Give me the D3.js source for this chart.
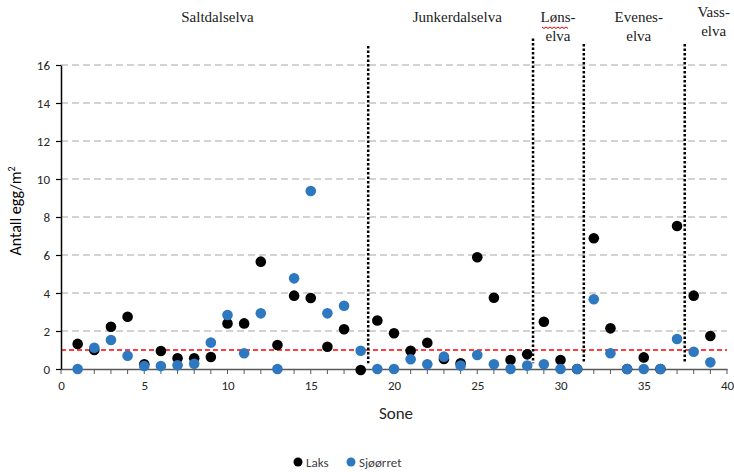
<!DOCTYPE html>
<html>
<head>
<meta charset="utf-8">
<script src="https://cdn.jsdelivr.net/npm/d3@7"></script>
<style>
  body { margin: 0; background: #fff; }
  .tick text { font-family: Carlito, Lato, "Liberation Sans", sans-serif; }
  .elv { font-family: "Liberation Serif", "Times New Roman", "DejaVu Serif", serif; }
</style>
</head>
<body>
<div id="chart"></div>
<script>
// sone 1..39
const soner = d3.range(1, 40);
const laks = [1.32, 1.0, 2.22, 2.75, 0.25, 0.95, 0.56, 0.56, 0.63, 2.4,
              2.4, 5.65, 1.26, 3.86, 3.74, 1.17, 2.09, -0.05, 2.55, 1.88,
              0.96, 1.38, 0.53, 0.3, 5.88, 3.75, 0.47, 0.77, 2.49, 0.47,
              0, 6.88, 2.14, 0, 0.61, 0, 7.53, 3.86, 1.74];
const sjoorret = [0, 1.12, 1.53, 0.7, 0.16, 0.16, 0.2, 0.28, 1.39, 2.84,
                  0.83, 2.93, 0, 4.77, 9.37, 2.93, 3.33, 0.96, 0, 0,
                  0.51, 0.25, 0.65, 0.18, 0.74, 0.25, 0, 0.18, 0.25, 0,
                  0, 3.67, 0.83, 0, 0, 0, 1.58, 0.91, 0.35];
const grenser = [18.45, 28.35, 31.4, 37.46];
const grenseTopp = [17.0, 17.4, 17.1, 17.1];
const elver = [
    {navn: ["Saltdalselva"], x: 9.4},
    {navn: ["Junkerdalselva"], x: 23.8},
    {navn: ["Løns-", "elva"], x: 29.85},
    {navn: ["Evenes-", "elva"], x: 34.7},
    {navn: ["Vass-", "elva"], x: 39.2}
];
const xTicks = [0, 5, 10, 15, 20, 25, 30, 35, 40];
const yTicks = [0, 2, 4, 6, 8, 10, 12, 14, 16];
const grenseverdi = 1;

const width = 734, height = 472;
const margin = {top: 65, right: 7, bottom: 103, left: 61};
const w = width - margin.left - margin.right;
const h = height - margin.top - margin.bottom;

const svg = d3.select("#chart").append("svg")
    .attr("width", width)
    .attr("height", height);

const g = svg.append("g")
    .attr("transform", "translate(" + margin.left + "," + margin.top + ")");

const x = d3.scaleLinear().domain([0, 40]).range([0, w]);
const y = d3.scaleLinear().domain([0, 16]).range([h, 0]);

const sans = "Carlito, Lato, 'Liberation Sans', sans-serif";

// gridlines
g.append("g")
    .selectAll("line")
    .data(yTicks.filter(d => d > 0))
    .join("line")
    .attr("x1", 0).attr("x2", w)
    .attr("y1", d => y(d)).attr("y2", d => y(d))
    .attr("stroke", "#a6a6a6")
    .attr("stroke-width", 1)
    .attr("stroke-dasharray", "7,4");

// red reference line
g.append("line")
    .attr("x1", 0).attr("x2", w)
    .attr("y1", y(grenseverdi)).attr("y2", y(grenseverdi))
    .attr("stroke", "#ff0000")
    .attr("stroke-width", 1.3)
    .attr("stroke-dasharray", "5,3");

// river borders
g.append("g")
    .selectAll("line")
    .data(grenser)
    .join("line")
    .attr("x1", d => x(d)).attr("x2", d => x(d))
    .attr("y1", (d, i) => y(grenseTopp[i]))
    .attr("y2", y(0.3))
    .attr("stroke", "#000")
    .attr("stroke-width", 2.5)
    .attr("stroke-dasharray", "2.5,2");

// x axis
const xAxis = g.append("g")
    .attr("transform", "translate(0," + h + ")")
    .call(d3.axisBottom(x).tickValues(xTicks).tickSize(0).tickPadding(12));
xAxis.select(".domain").attr("stroke", "#595959").attr("stroke-width", 1.5);
xAxis.selectAll(".tick text").attr("font-size", 13).attr("fill", "#262626");
xAxis.append("g")
    .selectAll("line")
    .data(d3.range(0, 41))
    .join("line")
    .attr("x1", d => x(d)).attr("x2", d => x(d))
    .attr("y1", 0).attr("y2", 5)
    .attr("stroke", "#595959")
    .attr("stroke-width", 1);

// y axis
const yAxis = g.append("g")
    .call(d3.axisLeft(y).tickValues(yTicks).tickSize(5).tickSizeOuter(0).tickPadding(6));
yAxis.select(".domain").attr("stroke", "#000").attr("stroke-width", 1.5);
yAxis.selectAll(".tick line").attr("stroke", "#000").attr("stroke-width", 1.2);
yAxis.selectAll(".tick text").attr("font-size", 13).attr("fill", "#262626");

// points
const punkter = g.append("g");
punkter.selectAll(".laks")
    .data(soner)
    .join("circle")
    .attr("class", "laks")
    .attr("cx", d => x(d))
    .attr("cy", (d, i) => y(laks[i]))
    .attr("r", 5.3)
    .attr("fill", "#000");
punkter.selectAll(".sjo")
    .data(soner)
    .join("circle")
    .attr("class", "sjo")
    .attr("cx", d => x(d))
    .attr("cy", (d, i) => y(sjoorret[i]))
    .attr("r", 5.3)
    .attr("fill", "#2e78c0");

// river names
elver.forEach(e => {
    const t = svg.append("text")
        .attr("class", "elv")
        .attr("x", margin.left + x(e.x))
        .attr("y", e.navn[0] === "Vass-" ? 17 : 22)
        .attr("text-anchor", "middle")
        .attr("font-size", 15)
        .attr("fill", "#222");
    e.navn.forEach((n, i) => {
        t.append("tspan")
            .attr("x", margin.left + x(e.x))
            .attr("dy", i === 0 ? 0 : 19)
            .text(n);
    });
});

// spell-check squiggle under "Løns"
const sq = d3.range(0, 27, 2).map((d, i) => [margin.left + x(29.85) - 16 + d, 27 + (i % 2 ? 1.5 : 0)]);
svg.append("path")
    .attr("d", d3.line()(sq))
    .attr("fill", "none")
    .attr("stroke", "#e00000")
    .attr("stroke-width", 1);

// axis titles
svg.append("text")
    .attr("transform", "translate(21," + (margin.top + h / 2 - 6) + ") rotate(-90)")
    .attr("text-anchor", "middle")
    .attr("font-family", sans)
    .attr("font-size", 16)
    .attr("fill", "#000")
    .html("Antall egg/m<tspan dy='-6' font-size='10'>2</tspan>");

svg.append("text")
    .attr("x", 396)
    .attr("y", 419)
    .attr("text-anchor", "middle")
    .attr("font-family", sans)
    .attr("font-size", 17)
    .attr("fill", "#262626")
    .text("Sone");

// legend
const legend = svg.append("g").attr("transform", "translate(298,462)");
const serier = [{navn: "Laks", farge: "#000", dx: 0}, {navn: "Sjøørret", farge: "#2e78c0", dx: 53}];
serier.forEach(s => {
    legend.append("circle").attr("cx", s.dx).attr("cy", 0).attr("r", 4.5).attr("fill", s.farge);
    legend.append("text")
        .attr("x", s.dx + 8).attr("y", 4.5)
        .attr("font-family", sans)
        .attr("font-size", 13)
        .attr("fill", "#404040")
        .text(s.navn);
});
</script>
</body>
</html>
